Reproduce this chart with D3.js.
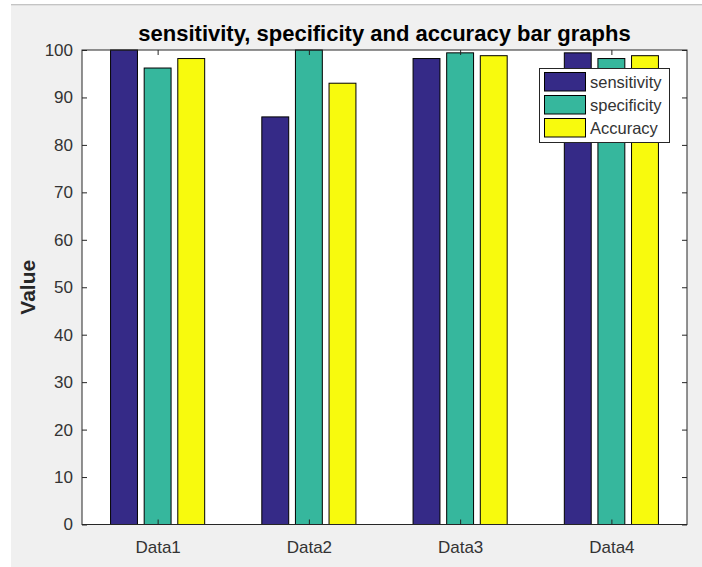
<!DOCTYPE html>
<html><head><meta charset="utf-8">
<script src="https://cdn.jsdelivr.net/npm/d3@7"></script>
<style>html,body{margin:0;padding:0;background:#fff;}svg{display:block;}</style>
</head><body>
<script>
const categories = ["Data1", "Data2", "Data3", "Data4"];
const seriesNames = ["sensitivity", "specificity", "Accuracy"];
const sensitivity = [100, 85.9, 98.2, 99.4];
const specificity = [96.2, 100, 99.4, 98.2];
const accuracy = [98.2, 93.0, 98.8, 98.8];
const seriesColors = ["#352a87", "#36b79d", "#f8fa0d"];
const yTicks = [0, 10, 20, 30, 40, 50, 60, 70, 80, 90, 100];
const series = [sensitivity, specificity, accuracy];

const W = 702, H = 567;
const svg = d3.select("body").append("svg").attr("width", W).attr("height", H);
const font = "Liberation Sans, Arial, Helvetica, sans-serif";

// page background fragments
svg.append("rect").attr("x", 0).attr("y", 0).attr("width", W).attr("height", H).attr("fill", "#fff");
svg.append("rect").attr("x", 11).attr("y", 6).attr("width", W - 11).attr("height", H - 6).attr("fill", "#f0f0f0");
svg.append("rect").attr("x", 11).attr("y", 4).attr("width", W - 11).attr("height", 1.5).attr("fill", "#c4c4c4");

const m = {left: 82, right: 687, top: 50, bottom: 524.5};
const x = d3.scaleLinear().domain([0.5, 4.5]).range([m.left, m.right]);
const y = d3.scaleLinear().domain([0, 100]).range([m.bottom, m.top]);

svg.append("rect").attr("x", m.left).attr("y", m.top)
  .attr("width", m.right - m.left).attr("height", m.bottom - m.top).attr("fill", "#fff");

const groupW = 3 / 4.5;
const slot = groupW / 3;
const barW = slot * 0.8;

series.forEach((vals, si) => {
  svg.append("g").selectAll("rect").data(vals).join("rect")
    .attr("x", (d, i) => x(i + 1 + (si - 1) * slot - barW / 2))
    .attr("width", x(barW) - x(0))
    .attr("y", d => y(d))
    .attr("height", d => y(0) - y(d))
    .attr("fill", seriesColors[si])
    .attr("stroke", "#000").attr("stroke-width", 1);
});

// axes
const axisColor = "#262626";
const ax = svg.append("g").attr("transform", `translate(0,${m.bottom})`)
  .call(d3.axisBottom(x).tickValues([1, 2, 3, 4]).tickFormat((d) => categories[d - 1]).tickSizeInner(-5).tickSizeOuter(0).tickPadding(16));
const axTop = svg.append("g").attr("transform", `translate(0,${m.top})`)
  .call(d3.axisTop(x).tickValues([1, 2, 3, 4]).tickFormat("").tickSizeInner(-5).tickSizeOuter(0));
const ayl = svg.append("g").attr("transform", `translate(${m.left},0)`)
  .call(d3.axisLeft(y).tickValues(yTicks).tickSizeInner(-5).tickSizeOuter(0).tickPadding(9));
const ayr = svg.append("g").attr("transform", `translate(${m.right},0)`)
  .call(d3.axisRight(y).tickValues(yTicks).tickFormat("").tickSizeInner(-5).tickSizeOuter(0));
[ax, axTop, ayl, ayr].forEach(g => {
  g.select(".domain").remove();
  g.selectAll("line").attr("stroke", axisColor);
  g.selectAll("text").attr("fill", "#333").style("font-family", font).style("font-size", "17px");
});
svg.append("rect").attr("x", m.left).attr("y", m.top)
  .attr("width", m.right - m.left).attr("height", m.bottom - m.top)
  .attr("fill", "none").attr("stroke", axisColor).attr("stroke-width", 1);

// title
svg.append("text").attr("x", (m.left + m.right) / 2).attr("y", 41)
  .attr("text-anchor", "middle").style("font-family", font).style("font-weight", "bold")
  .style("font-size", "22px").attr("fill", "#000")
  .text("sensitivity, specificity and accuracy bar graphs");

// y label
svg.append("text").attr("transform", `translate(35,${(m.top + m.bottom) / 2}) rotate(-90)`)
  .attr("text-anchor", "middle").style("font-family", font).style("font-weight", "bold")
  .style("font-size", "21px").attr("fill", "#262626").text("Value");

// legend
const lg = svg.append("g");
lg.append("rect").attr("x", 539.5).attr("y", 68.5).attr("width", 130).attr("height", 74)
  .attr("fill", "#fff").attr("stroke", axisColor).attr("stroke-width", 1);
seriesNames.forEach((name, i) => {
  const yy = 72.5 + i * 23;
  lg.append("rect").attr("x", 544.5).attr("y", yy).attr("width", 41).attr("height", 18.5)
    .attr("fill", seriesColors[i]).attr("stroke", "#000");
  lg.append("text").attr("x", 590).attr("y", yy + 15).style("font-family", font)
    .style("font-size", "16.5px").attr("fill", "#333").text(name);
});
</script>
</body></html>
